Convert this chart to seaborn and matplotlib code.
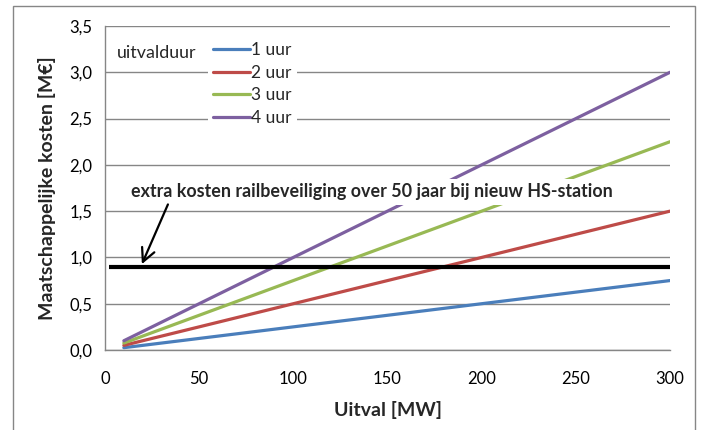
import numpy as np
import pandas as pd
import matplotlib
matplotlib.use('Agg')
import matplotlib.pyplot as plt
import seaborn as sns
from matplotlib.ticker import FuncFormatter
from matplotlib.patches import Rectangle

# data
uitval_mw = [10, 50, 100, 150, 200, 250, 300]
kosten_1uur = [0.025, 0.125, 0.25, 0.375, 0.5, 0.625, 0.75]
kosten_2uur = [0.05, 0.25, 0.5, 0.75, 1.0, 1.25, 1.5]
kosten_3uur = [0.075, 0.375, 0.75, 1.125, 1.5, 1.875, 2.25]
kosten_4uur = [0.1, 0.5, 1.0, 1.5, 2.0, 2.5, 3.0]
labels = ['1 uur', '2 uur', '3 uur', '4 uur']
colors = ['#4A7EBB', '#BE4B48', '#98B954', '#7D60A0']

rail_x = [2, 300]
rail_y = [0.9, 0.9]
rail_text = 'extra kosten railbeveiliging over 50 jaar bij nieuw HS-station'

x_ticks = [0, 50, 100, 150, 200, 250, 300]
y_ticks = [0.0, 0.5, 1.0, 1.5, 2.0, 2.5, 3.0, 3.5]

df = pd.DataFrame({
    'Uitval': uitval_mw * 4,
    'Kosten': kosten_1uur + kosten_2uur + kosten_3uur + kosten_4uur,
    'uitvalduur': [l for l in labels for _ in uitval_mw],
})

sns.set_theme(style='white')
plt.rcParams['font.family'] = ['Lato', 'DejaVu Sans']
grey = '#868686'

fig = plt.figure(figsize=(7.01, 4.30), dpi=100)
ax = fig.add_axes([105 / 701, 80 / 430, 565 / 701, 324 / 430])

sns.lineplot(data=df, x='Uitval', y='Kosten', hue='uitvalduur', palette=colors,
             linewidth=2.3, ax=ax, zorder=2)
ax.plot(rail_x, rail_y, color='black', linewidth=3, zorder=3, solid_capstyle='butt')

ax.set_xlim(0, 300)
ax.set_ylim(0, 3.5)
ax.set_xticks(x_ticks)
ax.set_yticks(y_ticks)
ax.yaxis.set_major_formatter(FuncFormatter(lambda v, p: f'{v:.1f}'.replace('.', ',')))
ax.tick_params(axis='both', direction='out', length=5, width=1, color=grey,
               labelsize=12, colors='black', pad=4)
ax.tick_params(axis='x', pad=10)
ax.grid(axis='y', color=grey, linewidth=1)
ax.set_axisbelow(True)
for s in ['top', 'right']:
    ax.spines[s].set_visible(False)
for s in ['left', 'bottom']:
    ax.spines[s].set_color(grey)
    ax.spines[s].set_linewidth(1)

ax.set_xlabel('Uitval [MW]', fontsize=14, fontweight='bold', labelpad=10)
ax.set_ylabel('Maatschappelijke kosten [M€]', fontsize=14, fontweight='bold', labelpad=10)

# annotation with white box covering the lines
ax.text(372 / 701, 1 - 192 / 430, rail_text, transform=fig.transFigure,
        ha='center', va='center', fontsize=12.9, fontweight='bold', zorder=6,
        bbox=dict(facecolor='white', edgecolor='none', pad=3))
ax.annotate('', xy=(19, 0.9), xytext=(34, 1.6),
            arrowprops=dict(arrowstyle='->', lw=1.6, color='black',
                            mutation_scale=24), zorder=7)

# legend
handles, lbls = ax.get_legend_handles_labels()
leg = ax.legend(handles, lbls, loc='upper left', bbox_to_anchor=(208 / 701, 1 - 37 / 430),
                bbox_transform=fig.transFigure, frameon=True, fontsize=12.5,
                handlelength=2.1, handletextpad=0.1, labelspacing=0.38,
                borderpad=0.3, borderaxespad=0)
leg.get_frame().set_facecolor('white')
leg.get_frame().set_edgecolor('none')
leg.get_frame().set_alpha(1)
leg.set_zorder(8)
fig.text(117 / 701, 1 - 53 / 430, 'uitvalduur', ha='left', va='center', fontsize=12.9)

# chart area border
fig.patches.append(Rectangle((12.5 / 701, -0.02), (694.5 - 12.5) / 701, 1 - 6 / 430 + 0.02,
                             transform=fig.transFigure, fill=False, edgecolor=grey,
                             linewidth=1))

fig.savefig('out.png', dpi=100)
